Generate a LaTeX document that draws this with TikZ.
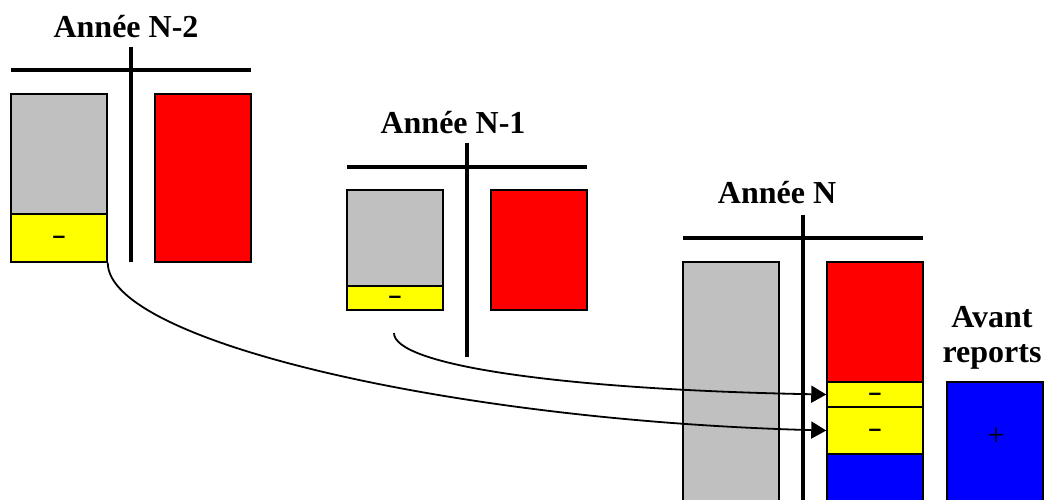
\documentclass[tikz,border=0pt]{standalone}
\usepackage{fontspec}
\setmainfont{Liberation Serif}
\newfontfamily\cellfont{Liberation Sans}
\usetikzlibrary{arrows.meta}

\definecolor{cellgray}{RGB}{192,192,192}
\definecolor{cellred}{RGB}{255,0,0}
\definecolor{cellyellow}{RGB}{255,255,0}
\definecolor{cellblue}{RGB}{0,0,255}

\tikzset{
	cell/.style={draw, line width=1.5pt, inner sep=0pt, minimum width=96pt},
	axis/.style={line width=4pt},
	year/.style={font=\fontsize{32}{35}\selectfont\bfseries, anchor=base},
	minus/.style={font=\cellfont\fontsize{23}{23}\selectfont\bfseries, text height=11.6pt, text depth=0pt},
	carry/.style={line width=1.8pt, -{Triangle[length=15pt,width=17pt]}}
}

\begin{document}
\begin{tikzpicture}[x=1pt,y=-1pt]
		\useasboundingbox (0,0) rectangle (1048,499);
		\clip (0,0) rectangle (1048,499);
		% year N-2
		\node[year] (t2) at (126,37) {Année N-2};
		\draw[axis] (11,70) -- (251,70);
		\draw[axis] (131,47) -- (131,262);
		\node[cell, fill=cellgray, minimum height=120pt] (g2) at (59,154) {};
		\node[cell, fill=cellyellow, minimum height=48pt, minus] (y2) at (59,238) {–};
		\node[cell, fill=cellred, minimum height=168pt] (r2) at (203,178) {};
		% year N-1
		\node[year] (t1) at (453,133) {Année N-1};
		\draw[axis] (347,167) -- (587,167);
		\draw[axis] (467,143) -- (467,357);
		\node[cell, fill=cellgray, minimum height=96pt] (g1) at (395,238) {};
		\node[cell, fill=cellyellow, minimum height=24pt, minus] (y1) at (395,298) {–};
		\node[cell, fill=cellred, minimum height=120pt] (r1) at (539,250) {};
		% year N
		\node[year] (t0) at (777,203) {Année N};
		\draw[axis] (683,238) -- (923,238);
		\draw[axis] (803,215) -- (803,520);
		\node[cell, fill=cellgray, minimum height=258pt] (g0) at (731,391) {};
		\node[cell, fill=cellred, minimum height=120pt] (r0) at (875,322) {};
		\node[cell, fill=cellyellow, minimum height=25pt, minus] (y0a) at (875,394.5) {–};
		\node[cell, fill=cellyellow, minimum height=47pt, minus] (y0b) at (875,430.5) {–};
		\node[cell, fill=cellblue, minimum height=66pt] (b0) at (875,487) {};
		% before carry-over
		\node[year, align=center] (av) at (992,362) {Avant\\reports};
		\node[cell, fill=cellblue, minimum height=138pt] (b) at (995,451) {};
		\node[font=\fontsize{31}{31}\selectfont, inner sep=0pt] (plus) at (996,437) {+};
		% carried losses
		\coordinate (s1) at (394,333);
		\draw[carry] (s1) .. controls +(0,32) and +(-267,-5) .. (y0a.west);
		\draw[carry] (y2.south east) .. controls +(0,78) and +(-377,-10) .. (y0b.west);
	\end{tikzpicture}
\end{document}
